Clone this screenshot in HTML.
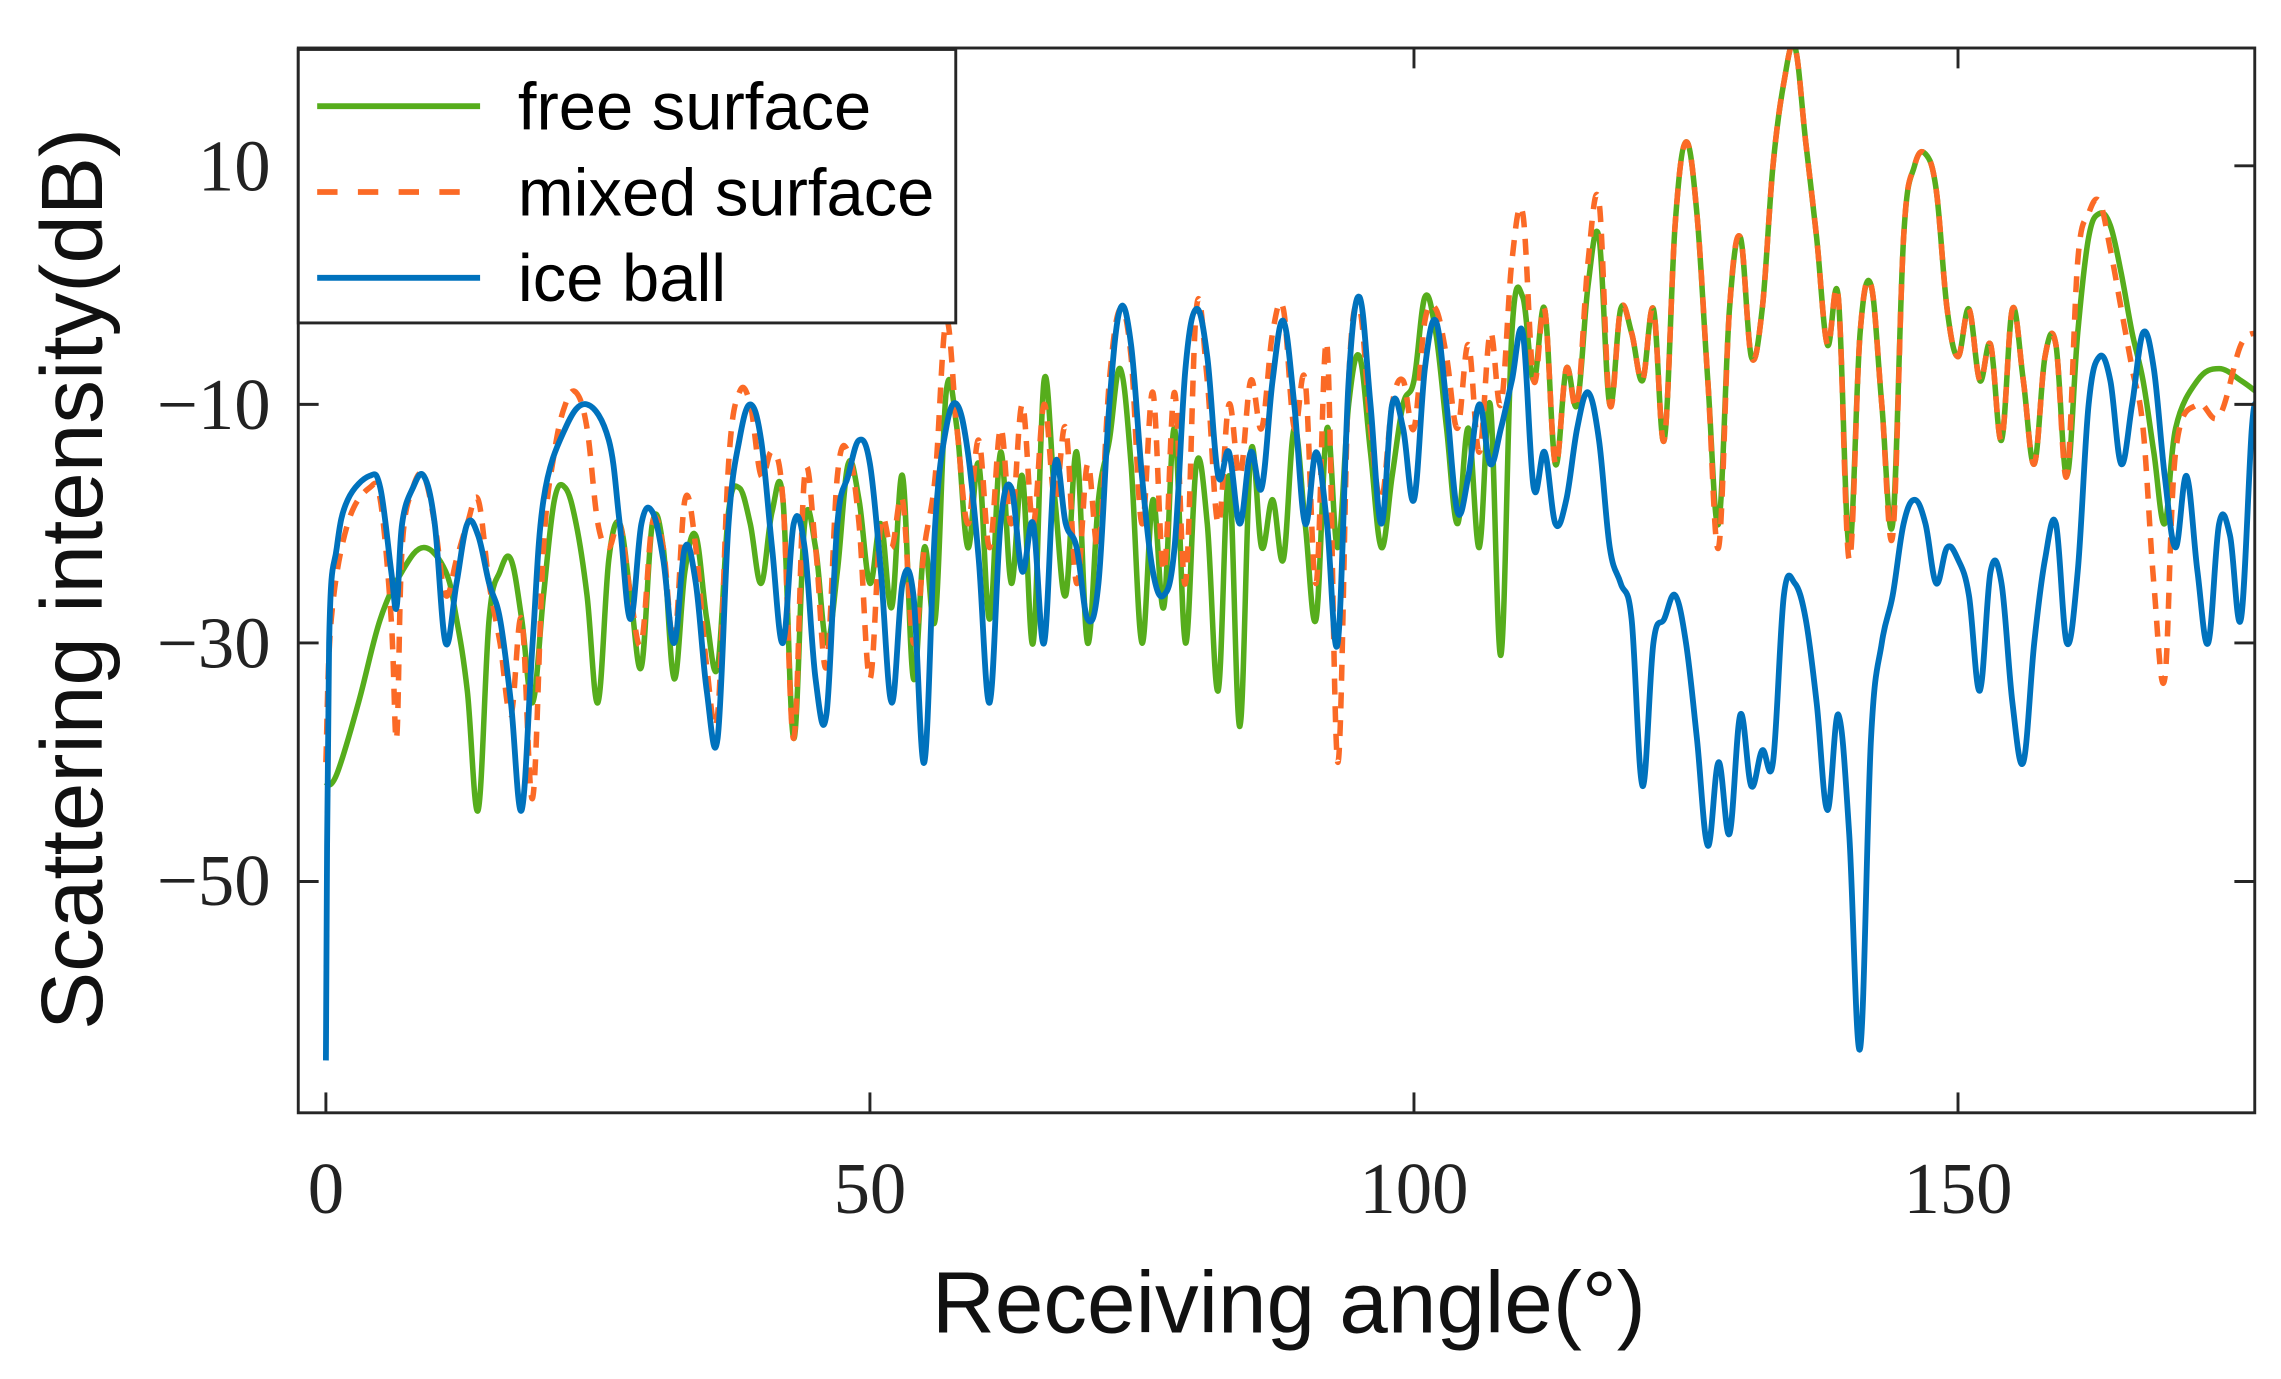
<!DOCTYPE html>
<html><head><meta charset="utf-8"><style>
html,body{margin:0;padding:0;background:#fff;}
svg{display:block;}
</style></head><body>
<svg id="s" width="2281" height="1379" viewBox="0 0 1568 948" xmlns="http://www.w3.org/2000/svg">
<defs><clipPath id="c"><rect x="205" y="33" width="1345" height="732"/></clipPath></defs>
<rect width="1568" height="948" fill="#fff"/>
<g clip-path="url(#c)" fill="none" stroke-linejoin="round">
<path id="g" stroke="#56ad1c" stroke-width="3.8"/>
<path id="o" stroke="#fb6a26" stroke-width="3.8" stroke-dasharray="11,8"/>
<path id="b" stroke="#0072bd" stroke-width="4"/>
</g>
<g id="ax" stroke="#262626" stroke-width="2" fill="none"></g>
<g font-family="Liberation Serif, serif" font-size="50" fill="#222" text-anchor="middle">
<text x="224" y="834">0</text><text x="598" y="834">50</text><text x="972" y="834">100</text><text x="1346" y="834">150</text>
</g>
<g font-family="Liberation Serif, serif" font-size="50" fill="#222" text-anchor="end">
<text x="186" y="131">10</text><text x="186" y="295">−10</text><text x="186" y="459">−30</text><text x="186" y="622">−50</text>
</g>
<text x="886" y="916" font-family="Liberation Sans, sans-serif" font-size="60" text-anchor="middle" fill="#111">Receiving angle(°)</text>
<text transform="translate(70,398) rotate(-90)" font-family="Liberation Sans, sans-serif" font-size="60" text-anchor="middle" fill="#111">Scattering intensity(dB)</text>
<rect x="205" y="34" width="452" height="188" fill="#fff" stroke="#262626" stroke-width="2"/>
<line x1="218" y1="73" x2="330" y2="73" stroke="#56ad1c" stroke-width="4"/>
<line x1="218" y1="132" x2="330" y2="132" stroke="#fb6a26" stroke-width="4" stroke-dasharray="14,14"/>
<line x1="218" y1="191" x2="330" y2="191" stroke="#0072bd" stroke-width="4"/>
<g font-family="Liberation Sans, sans-serif" font-size="46" fill="#000">
<text x="356" y="89">free surface</text><text x="356" y="148">mixed surface</text><text x="356" y="207">ice ball</text>
</g>
</svg>
<script>
function X(d){return 224+7.48*d;} function Y(v){return 114+(10-v)*8.2;}
function P(a){var p=[];for(var i=0;i<a.length;i+=2)p.push([X(a[i]),Y(a[i+1])]);
var s="M"+p[0][0].toFixed(1)+","+p[0][1].toFixed(1);
for(var i=0;i<p.length-1;i++){var p0=p[Math.max(0,i-1)],p1=p[i],p2=p[i+1],p3=p[Math.min(p.length-1,i+2)];var t=0.18;
var c1=[p1[0]+(p2[0]-p0[0])*t,p1[1]+(p2[1]-p0[1])*t],c2=[p2[0]-(p3[0]-p1[0])*t,p2[1]-(p3[1]-p1[1])*t];
s+=" C"+c1[0].toFixed(1)+","+c1[1].toFixed(1)+" "+c2[0].toFixed(1)+","+c2[1].toFixed(1)+" "+p2[0].toFixed(1)+","+p2[1].toFixed(1);}
return s;}
var B=[0,-65,0.3,-30,1,-22,2,-18,4,-16,5,-17,6,-24,6.5,-27,7,-20,8,-17,9,-16,10,-20,11,-30,12,-25,13,-20,14,-21,15,-25,16,-28,17,-35,18,-44,19,-30,20,-18,22,-12,24,-10,26,-13,27,-20,28,-28,29,-20,30,-19,31,-23,32,-30,33,-22,34,-25,35,-34,36,-38,37,-20,38,-13,39,-10,40,-13,41,-22,42,-30,43,-20,44,-22,45,-33,46,-36,47,-20,48,-16,49,-13,50,-15,51,-24,52,-35,53,-25,54,-26,55,-40,56,-20,57,-12,58,-10,59,-14,60,-23,61,-35,62,-20,63,-17,64,-24,65,-20,66,-30,67,-15,68,-20,69,-22,70,-28,71,-25,72,-10,73,-2,74,-5,75,-16,76,-24,77,-26,78,-22,79,-7,80,-2,81,-6,82,-16,83,-14,84,-20,85,-14,86,-17,87,-8,88,-3,89,-10,90,-20,91,-14,92,-20,93,-30,94,-8,95,-1,96,-10,97,-20,98,-10,99,-12,100,-18,101,-7,102,-3,103,-10,104,-19,105,-16,106,-10,107,-15,108,-12,109,-8,110,-4,111,-17,112,-14,113,-20,114,-18,115,-12,116,-9,117,-13,118,-22,119,-25,120,-28,121,-42,122,-30,123,-28,124,-26,125,-30,126,-38,127,-47,128,-40,129,-46,130,-36,131,-42,132,-39,133,-40,134,-26,135,-25,136,-28,137,-35,138,-44,139,-36,140,-46,141,-64,142,-38,143,-30,144,-26,145,-20,146,-18,147,-20,148,-25,149,-22,150,-23,151,-26,152,-34,153,-24,154,-25,155,-35,156,-40,157,-30,158,-23,159,-20,160,-30,161,-24,162,-10,163,-6,164,-8,165,-15,166,-10,167,-4,168,-7,169,-16,170,-22,171,-16,172,-24,173,-30,174,-20,175,-21,176,-28,177,-12,177.5,-10];
var G=[0,-42,1,-41,3,-35,5,-28,7,-24,9,-22,11,-24,12,-28,13,-34,14,-44,15,-28,16,-24,17,-23,18,-28,19,-35,20,-26,21,-18,22,-17,23,-20,24,-26,25,-35,26,-23,27,-20,28,-26,29,-32,30,-20,31,-22,32,-33,33,-24,34,-21,35,-28,36,-32,37,-19,38,-17,39,-20,40,-25,41,-19,42,-18,43,-38,44,-20,45,-22,46,-30,47,-24,48,-15,49,-18,50,-25,51,-20,52,-27,53,-16,54,-33,55,-22,56,-28,57,-9,58,-12,59,-22,60,-15,61,-28,62,-14,63,-25,64,-16,65,-30,66,-8,67,-18,68,-26,69,-14,70,-30,71,-18,72,-13,73,-7,74,-15,75,-30,76,-18,77,-27,78,-12,79,-30,80,-15,81,-20,82,-34,83,-16,84,-37,85,-14,86,-22,87,-18,88,-23,89,-12,90,-20,91,-28,92,-12,93,-22,94,-10,95,-6,96,-14,97,-22,98,-16,99,-10,100,-8,101,-1,102,-4,103,-12,104,-20,105,-12,106,-22,107,-10,108,-31,109,-4,110,-1,111,-8,112,-2,113,-15,114,-7,115,-10,116,0,117,4,118,-10,119,-2,120,-4,121,-8,122,-2,123,-13,124,5,125,12,126,6,127,-8,128,-20,129,-2,130,4,131,-6,132,-2,133,10,134,17,135,20,136,12,137,4,138,-5,139,-1,140,-22,141,-4,142,0,143,-10,144,-20,145,4,146,10,147,11,148,8,149,-2,150,-6,151,-2,152,-8,153,-5,154,-13,155,-2,156,-8,157,-15,158,-6,159,-5,160,-16,161,-4,162,4,163,6,164,5,165,1,166,-4,167,-8,168,-14,169,-20,170,-12,172,-8,174,-7,176,-8,177.5,-9];
var O=[0,-40,0.5,-28,2,-20,4,-17,5,-18,6,-28,6.5,-38,7,-22,8,-17,9,-16,10,-20,11,-26,12,-23,13,-20,14,-18,15,-25,16,-30,17,-36,18,-28,19,-43,20,-22,21,-14,22,-10,23,-9,24,-12,25,-20,26,-22,27,-20,28,-26,29,-30,30,-20,31,-22,32,-30,33,-18,34,-22,35,-32,36,-36,37,-15,38,-9,39,-10,40,-16,41,-14,42,-18,43,-38,44,-16,45,-22,46,-32,47,-16,48,-14,49,-20,50,-33,51,-20,52,-22,53,-18,54,-30,55,-22,56,-16,57,-3,58,-12,59,-20,60,-13,61,-22,62,-12,63,-20,64,-10,65,-20,66,-10,67,-18,68,-12,69,-25,70,-15,71,-22,72,-8,73,-2,74,-6,75,-20,76,-9,77,-24,78,-9,79,-25,80,-2,81,-8,82,-20,83,-10,84,-16,85,-8,86,-12,87,-4,88,-2,89,-12,90,-8,91,-25,92,-5,93,-40,94,-8,95,-2,96,-12,97,-18,98,-10,99,-8,100,-12,101,-3,102,-2,103,-6,104,-12,105,-5,106,-14,107,-4,108,-10,109,2,110,6,111,-8,112,-2,113,-15,114,-7,115,-10,116,2,117,7,118,-10,119,-2,120,-4,121,-8,122,-2,123,-13,124,5,125,12,126,6,127,-8,128,-22,129,-2,130,4,131,-6,132,-2,133,10,134,17,135,20,136,12,137,4,138,-5,139,-1,140,-23,141,-4,142,0,143,-10,144,-21,145,4,146,10,147,11,148,8,149,-2,150,-6,151,-2,152,-8,153,-5,154,-13,155,-2,156,-8,157,-15,158,-6,159,-5,160,-16,161,2,162,6,163,7,164,3,165,-2,166,-7,167,-12,168,-25,169,-33,170,-14,172,-10,174,-11,176,-5,177.5,-4];
document.getElementById('g').setAttribute('d',P(G));
document.getElementById('o').setAttribute('d',P(O));
document.getElementById('b').setAttribute('d',P(B));
var ax=document.getElementById('ax'),h='<rect x="205" y="33" width="1345" height="732"/>';
[0,50,100,150].forEach(function(d){var x=X(d);h+='<line x1="'+x+'" y1="765" x2="'+x+'" y2="751"/><line x1="'+x+'" y1="33" x2="'+x+'" y2="47"/>';});
[10,-10,-30,-50].forEach(function(v){var y=Y(v);h+='<line x1="205" y1="'+y+'" x2="219" y2="'+y+'"/><line x1="1550" y1="'+y+'" x2="1536" y2="'+y+'"/>';});
ax.innerHTML=h;
</script>
</body></html>
